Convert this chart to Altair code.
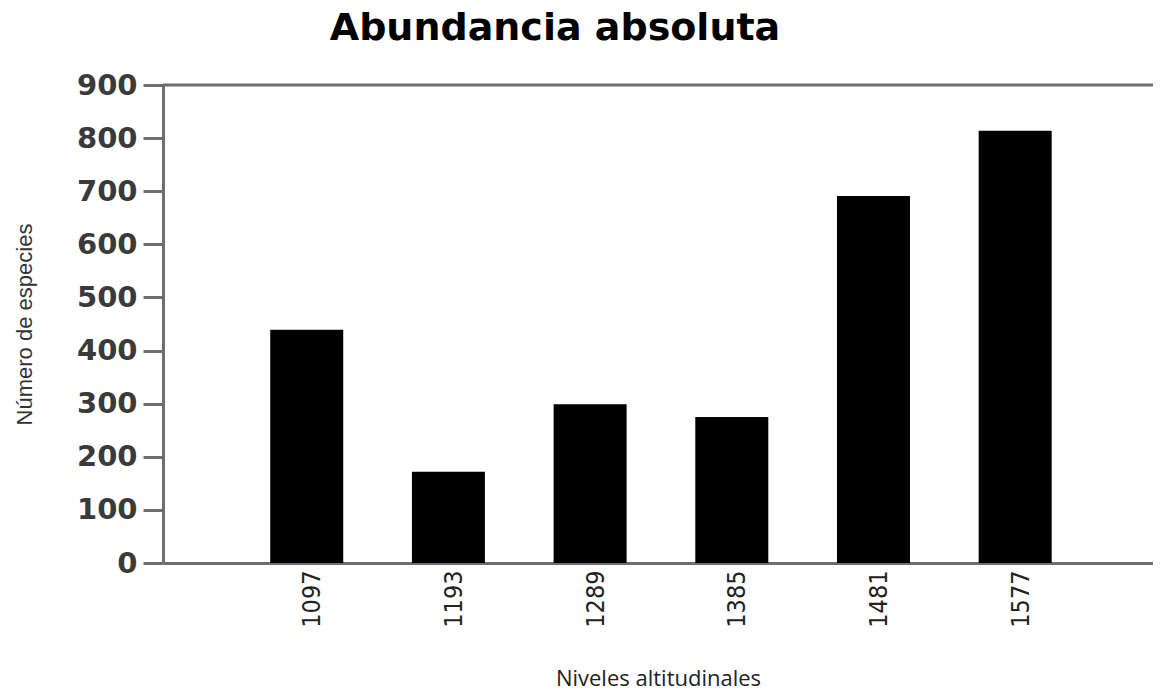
import altair as alt
import pandas as pd

niveles = [1097, 1193, 1289, 1385, 1481, 1577]
especies = [439, 172, 299, 275, 691, 814]
y_ticks = [0, 100, 200, 300, 400, 500, 600, 700, 800, 900]
y_top = [900]

df = pd.DataFrame({"nivel": niveles, "especies": especies})
df_top = pd.DataFrame({"y": y_top})

axis_color = "#6e6e6e"

bars = alt.Chart(df).mark_bar(color="black", size=73).encode(
    x=alt.X(
        "nivel:Q",
        scale=alt.Scale(domain=[1003, 1667], nice=False, zero=False),
        axis=alt.Axis(
            values=niveles,
            format="d",
            labelAngle=-90,
            labelFont="Liberation Sans Narrow, DejaVu Sans Condensed, sans-serif",
            labelFontSize=25,
            labelColor="#222",
            labelPadding=7,
            labelOffset=5,
            ticks=False,
            grid=False,
            domainColor=axis_color,
            domainWidth=3,
            title="Niveles altitudinales",
            titleFont="Open Sans",
            titleFontSize=22,
            titleFontWeight="normal",
            titleColor="#222",
            titleBaseline="alphabetic",
            titleY=122,
        ),
    ),
    y=alt.Y(
        "especies:Q",
        scale=alt.Scale(domain=[0, 900], nice=False),
        axis=alt.Axis(
            values=y_ticks,
            labelFont="DejaVu Sans",
            labelFontSize=29,
            labelFontWeight="bold",
            labelColor="#3a3a3a",
            labelPadding=6,
            tickSize=20,
            tickColor=axis_color,
            tickWidth=3,
            grid=False,
            domainColor=axis_color,
            domainWidth=3,
            title="Número de especies",
            titleFont="Liberation Sans",
            titleFontSize=22,
            titleFontWeight="normal",
            titleColor="#333",
            titleX=-139,
            titleBaseline="middle",
        ),
    ),
)

top_line = alt.Chart(df_top).mark_rule(color=axis_color, strokeWidth=3).encode(
    y=alt.Y("y:Q")
)

chart = (
    alt.layer(top_line, bars)
    .properties(
        width=990,
        height=478,
        autosize=alt.AutoSizeParams(type="none"),
        padding={"left": 155, "top": 77, "right": 0, "bottom": 127},
        title=alt.TitleParams(
            "Abundancia absoluta",
            font="DejaVu Sans",
            fontSize=38,
            fontWeight="bold",
            color="black",
            anchor="middle",
            dx=-103,
            offset=23,
        ),
    )
    .configure_view(stroke="#dddddd", strokeWidth=1)
)

chart.save("out.html", embed_options={"renderer": "svg", "actions": False})
